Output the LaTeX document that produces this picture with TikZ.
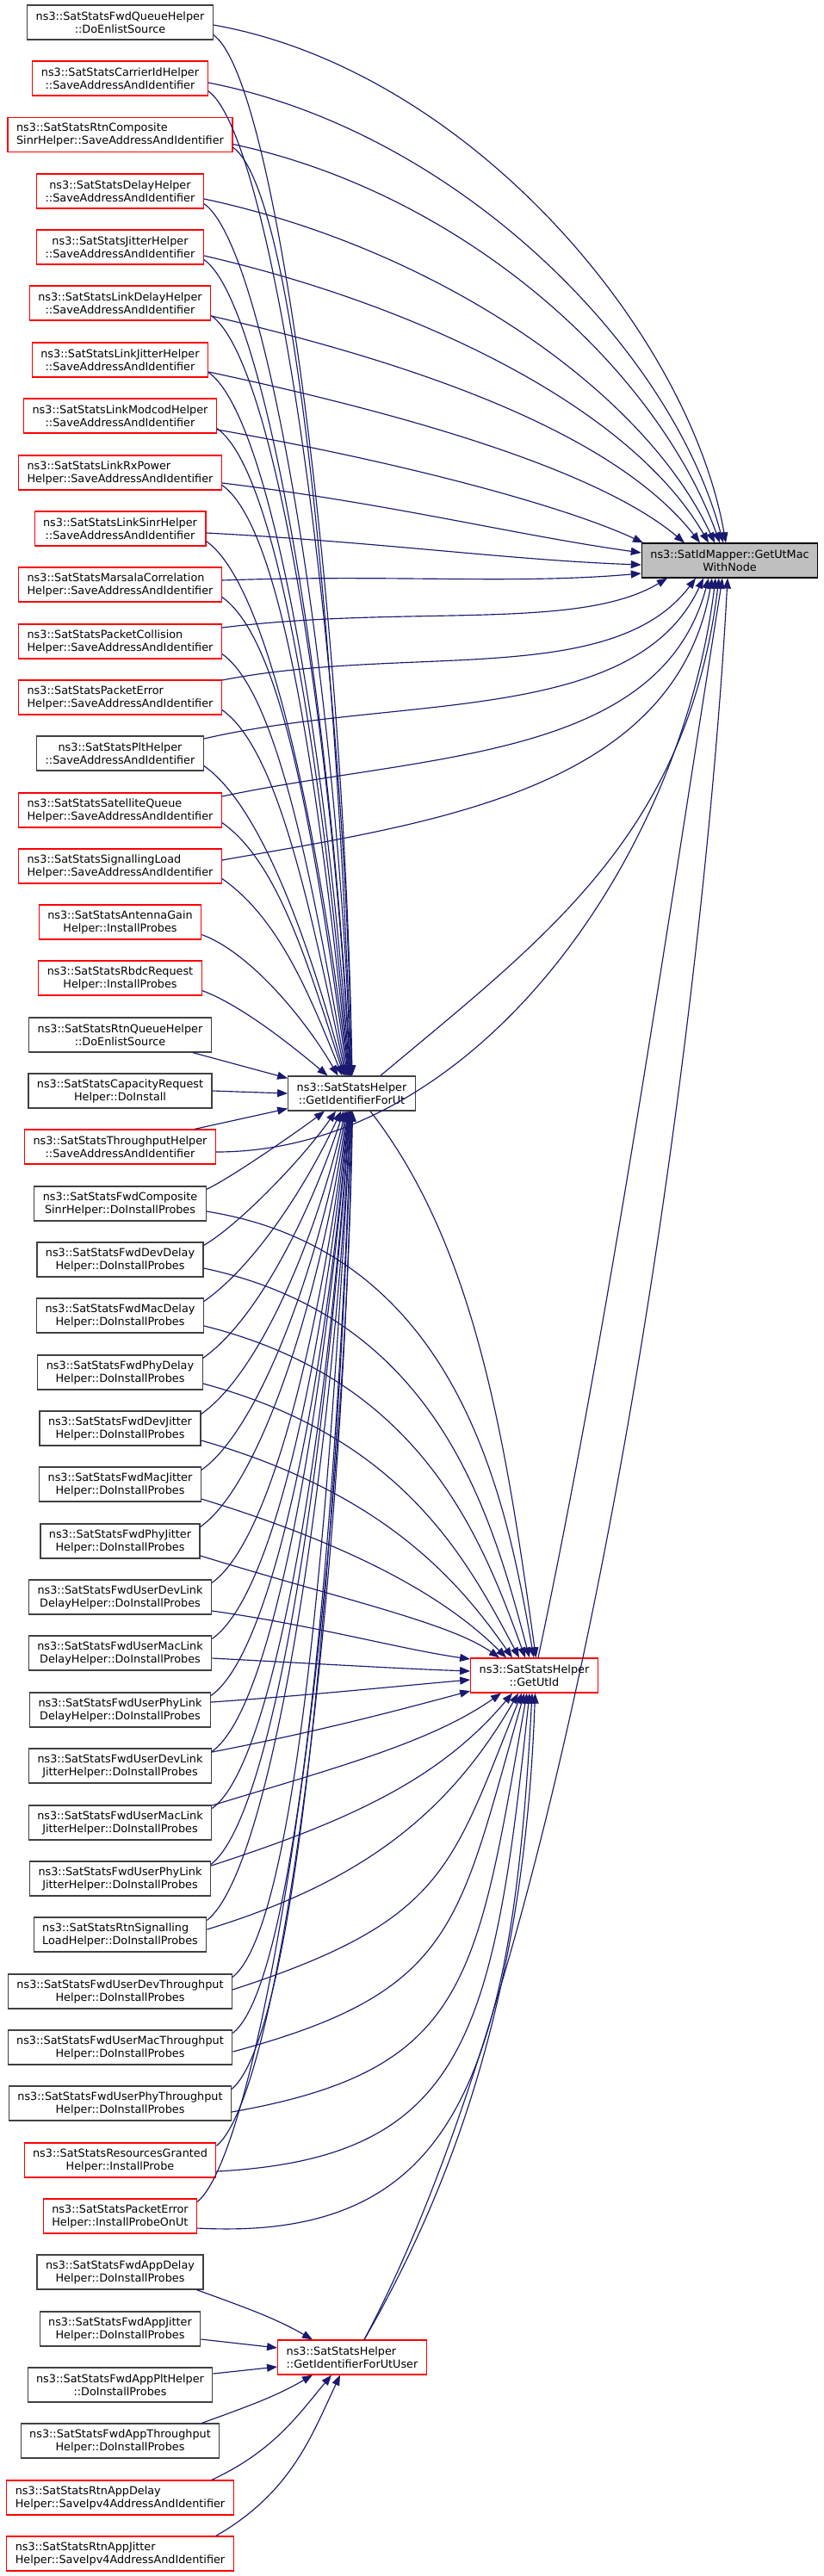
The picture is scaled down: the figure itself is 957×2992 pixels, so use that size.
\documentclass[tikz,border=0pt]{standalone}
\usepackage{fontspec}
\setmainfont{DejaVu Sans}
\usetikzlibrary{arrows.meta}

\definecolor{edgeblue}{HTML}{191970}
\definecolor{nodered}{HTML}{FF0000}
\definecolor{nodegrey}{HTML}{404040}
\definecolor{rootfill}{HTML}{BFBFBF}

\tikzset{
  fnode/.style={draw=nodegrey, fill=white, line width=1.2pt, minimum height=40pt,
    inner xsep=10pt, inner ysep=0pt, align=center,
    font=\fontsize{12.8}{15}\selectfont},
  rednode/.style={fnode, draw=nodered},
  rootnode/.style={fnode, draw=black, fill=rootfill},
  callarrow/.style={draw=edgeblue, line width=1.15pt, -{Triangle[length=12pt,width=9pt]}}
}

\begin{document}
\begin{tikzpicture}[x=1pt, y=1pt]
  \useasboundingbox (0,0) rectangle (957,-2992);

  % Callee and the helpers in between
  \node[rootnode] (mac) at (847.5,-651) {ns3::SatIdMapper::GetUtMac\\WithNode};
  \node[fnode] (getIdUt) at (408.5,-1270) {ns3::SatStatsHelper\\::GetIdentifierForUt};
  \node[rednode] (getUtId) at (620.5,-1946) {ns3::SatStatsHelper\\::GetUtId};
  \node[rednode, align=left] (getIdUtUser) at (409,-2738) {ns3::SatStatsHelper\\::GetIdentifierForUtUser};

  % Callers (left column, top to bottom)
  \node[fnode] (fwdQueue) at (139.5,-26) {ns3::SatStatsFwdQueueHelper\\::DoEnlistSource};
  \node[rednode] (carrierId) at (139.5,-91) {ns3::SatStatsCarrierIdHelper\\::SaveAddressAndIdentifier};
  \node[rednode, align=left] (rtnCompSinr) at (139.5,-156.5) {ns3::SatStatsRtnComposite\\SinrHelper::SaveAddressAndIdentifier};
  \node[rednode] (delay) at (139.5,-222) {ns3::SatStatsDelayHelper\\::SaveAddressAndIdentifier};
  \node[rednode] (jitter) at (139.5,-287) {ns3::SatStatsJitterHelper\\::SaveAddressAndIdentifier};
  \node[rednode] (linkDelay) at (139.5,-352) {ns3::SatStatsLinkDelayHelper\\::SaveAddressAndIdentifier};
  \node[rednode] (linkJitter) at (139.5,-418) {ns3::SatStatsLinkJitterHelper\\::SaveAddressAndIdentifier};
  \node[rednode] (linkModcod) at (139.5,-483) {ns3::SatStatsLinkModcodHelper\\::SaveAddressAndIdentifier};
  \node[rednode, align=left] (linkRxPower) at (139.5,-549) {ns3::SatStatsLinkRxPower\\Helper::SaveAddressAndIdentifier};
  \node[rednode] (linkSinr) at (139.5,-614) {ns3::SatStatsLinkSinrHelper\\::SaveAddressAndIdentifier};
  \node[rednode, align=left] (marsala) at (139.5,-679) {ns3::SatStatsMarsalaCorrelation\\Helper::SaveAddressAndIdentifier};
  \node[rednode, align=left] (pktCollision) at (139.5,-745) {ns3::SatStatsPacketCollision\\Helper::SaveAddressAndIdentifier};
  \node[rednode, align=left] (pktError) at (139.5,-810) {ns3::SatStatsPacketError\\Helper::SaveAddressAndIdentifier};
  \node[fnode] (plt) at (139.5,-875) {ns3::SatStatsPltHelper\\::SaveAddressAndIdentifier};
  \node[rednode, align=left] (satQueue) at (139.5,-941) {ns3::SatStatsSatelliteQueue\\Helper::SaveAddressAndIdentifier};
  \node[rednode, align=left] (signalLoad) at (139.5,-1006) {ns3::SatStatsSignallingLoad\\Helper::SaveAddressAndIdentifier};
  \node[rednode] (antennaGain) at (139.5,-1071) {ns3::SatStatsAntennaGain\\Helper::InstallProbes};
  \node[rednode] (rbdcReq) at (139.5,-1136) {ns3::SatStatsRbdcRequest\\Helper::InstallProbes};
  \node[fnode] (rtnQueue) at (139.5,-1202) {ns3::SatStatsRtnQueueHelper\\::DoEnlistSource};
  \node[fnode] (capReq) at (139.5,-1267) {ns3::SatStatsCapacityRequest\\Helper::DoInstall};
  \node[rednode] (throughput) at (139.5,-1332) {ns3::SatStatsThroughputHelper\\::SaveAddressAndIdentifier};
  \node[fnode] (fwdCompSinr) at (139.5,-1398) {ns3::SatStatsFwdComposite\\SinrHelper::DoInstallProbes};
  \node[fnode] (fwdDevDelay) at (139.5,-1463) {ns3::SatStatsFwdDevDelay\\Helper::DoInstallProbes};
  \node[fnode] (fwdMacDelay) at (139.5,-1528) {ns3::SatStatsFwdMacDelay\\Helper::DoInstallProbes};
  \node[fnode] (fwdPhyDelay) at (139.5,-1594) {ns3::SatStatsFwdPhyDelay\\Helper::DoInstallProbes};
  \node[fnode] (fwdDevJitter) at (139.5,-1659) {ns3::SatStatsFwdDevJitter\\Helper::DoInstallProbes};
  \node[fnode] (fwdMacJitter) at (139.5,-1724) {ns3::SatStatsFwdMacJitter\\Helper::DoInstallProbes};
  \node[fnode] (fwdPhyJitter) at (139.5,-1790) {ns3::SatStatsFwdPhyJitter\\Helper::DoInstallProbes};
  \node[fnode] (userDevLinkDelay) at (139.5,-1855) {ns3::SatStatsFwdUserDevLink\\DelayHelper::DoInstallProbes};
  \node[fnode] (userMacLinkDelay) at (139.5,-1920) {ns3::SatStatsFwdUserMacLink\\DelayHelper::DoInstallProbes};
  \node[fnode] (userPhyLinkDelay) at (139.5,-1986) {ns3::SatStatsFwdUserPhyLink\\DelayHelper::DoInstallProbes};
  \node[fnode] (userDevLinkJitter) at (139.5,-2051) {ns3::SatStatsFwdUserDevLink\\JitterHelper::DoInstallProbes};
  \node[fnode] (userMacLinkJitter) at (139.5,-2117) {ns3::SatStatsFwdUserMacLink\\JitterHelper::DoInstallProbes};
  \node[fnode] (userPhyLinkJitter) at (139.5,-2182) {ns3::SatStatsFwdUserPhyLink\\JitterHelper::DoInstallProbes};
  \node[fnode, align=left] (rtnSignalLoad) at (139.5,-2247) {ns3::SatStatsRtnSignalling\\LoadHelper::DoInstallProbes};
  \node[fnode] (userDevThr) at (139.5,-2313) {ns3::SatStatsFwdUserDevThroughput\\Helper::DoInstallProbes};
  \node[fnode] (userMacThr) at (139.5,-2378) {ns3::SatStatsFwdUserMacThroughput\\Helper::DoInstallProbes};
  \node[fnode] (userPhyThr) at (139.5,-2443) {ns3::SatStatsFwdUserPhyThroughput\\Helper::DoInstallProbes};
  \node[rednode] (resGranted) at (139.5,-2509) {ns3::SatStatsResourcesGranted\\Helper::InstallProbe};
  \node[rednode, align=left] (pktErrorUt) at (139.5,-2574) {ns3::SatStatsPacketError\\Helper::InstallProbeOnUt};
  \node[fnode] (appDelay) at (139.5,-2639) {ns3::SatStatsFwdAppDelay\\Helper::DoInstallProbes};
  \node[fnode] (appJitter) at (139.5,-2705) {ns3::SatStatsFwdAppJitter\\Helper::DoInstallProbes};
  \node[fnode] (appPlt) at (139.5,-2770) {ns3::SatStatsFwdAppPltHelper\\::DoInstallProbes};
  \node[fnode] (appThr) at (139.5,-2835) {ns3::SatStatsFwdAppThroughput\\Helper::DoInstallProbes};
  \node[rednode, align=left] (rtnAppDelay) at (139.5,-2901) {ns3::SatStatsRtnAppDelay\\Helper::SaveIpv4AddressAndIdentifier};
  \node[rednode, align=left] (rtnAppJitter) at (139.5,-2966) {ns3::SatStatsRtnAppJitter\\Helper::SaveIpv4AddressAndIdentifier};

  % Calls into GetUtMacWithNode (top side)
  \foreach \nm/\sy/\oa/\ol/\ex/\ia/\il in {
      fwdQueue/-3/-10/300/-4.5/100/250, carrierId/-5/-11/290/-7.5/105/240,
      rtnCompSinr/-11/-12/270/-11.5/110/220, delay/-9/-12/270/-17.5/115/200,
      jitter/-10/-13/260/-24.5/120/180, linkDelay/-15/-13/250/-34.5/128/160,
      linkJitter/-14/-12/240/-52.5/140/130, linkModcod/-16/-10/220/-100.5/155/100}
    \draw[callarrow] ([yshift=\sy]\nm.east) .. controls +(\oa:\ol) and +(\ia:\il) .. ([xshift=\ex]mac.north);

  % Calls into GetUtMacWithNode (left side)
  \foreach \nm/\sy/\oa/\ol/\ey/\ia/\il in {
      linkRxPower/-12/-7/200/9/172/150, linkSinr/-5/-3/200/-5/178/150,
      marsala/5/2/200/-15/185/150}
    \draw[callarrow] ([yshift=\sy]\nm.east) .. controls +(\oa:\ol) and +(\ia:\il) .. ([yshift=\ey]mac.west);

  % Calls into GetUtMacWithNode (bottom side)
  \foreach \nm/\sy/\oa/\ol/\ex/\ia/\il in {
      pktCollision/16/7/220/-72.5/-149/120, pktError/20/11/220/-39.5/-127/160,
      plt/17/13/230/-30.5/-115/190, satQueue/16/12/240/-24.5/-105/220,
      signalLoad/7/10/250/-20.5/-100/250, throughput/-6/0/300/-16.5/-97/330}
    \draw[callarrow] ([yshift=\sy]\nm.east) .. controls +(\oa:\ol) and +(\ia:\il) .. ([xshift=\ex]mac.south);

  % Calls into GetIdentifierForUt from above
  \foreach \nm/\oa/\ol/\ex/\ia/\il in {
      fwdQueue/-35/90/0.5/91/545, carrierId/-35/90/0/91/515,
      rtnCompSinr/-35/90/-0.5/92/486, delay/-35/90/-1/92/456,
      jitter/-35/90/-1.5/93/427, linkDelay/-35/90/-2/93/398,
      linkJitter/-35/90/-2.5/94/368, linkModcod/-35/90/-3/95/339,
      linkRxPower/-35/90/-3.5/96/309, linkSinr/-35/90/-4/97/280,
      marsala/-35/90/-5/98/251, pktCollision/-35/80/-6/100/221,
      pktError/-35/80/-7/102/192, plt/-35/80/-8/105/162,
      satQueue/-35/80/-9/108/133, signalLoad/-35/80/-11/112/104,
      antennaGain/-20/60/-16/120/74, rbdcReq/-20/50/-28/140/45}
    \draw[callarrow] ([yshift=6]\nm.south east) .. controls +(\oa:\ol) and +(\ia:\il) .. ([xshift=\ex]getIdUt.north);

  % Direct calls into GetIdentifierForUt
  \draw[callarrow] ([xshift=-22]rtnQueue.south east) -- ([yshift=-3]getIdUt.north west);
  \draw[callarrow] (capReq.east) -- (getIdUt.west);
  \draw[callarrow] ([xshift=-25]throughput.north east) -- ([yshift=3]getIdUt.south west);

  % Calls into GetIdentifierForUt from below
  \foreach \nm/\oa/\ol/\ex/\ia/\il in {
      fwdCompSinr/25/30/-31.5/-143/41, fwdDevDelay/30/45/-18.5/-125/71,
      fwdMacDelay/35/70/-12.5/-115/100, fwdPhyDelay/35/75/-9.5/-108/130,
      fwdDevJitter/35/80/-7.5/-103/159, fwdMacJitter/35/80/-6.5/-100/188,
      fwdPhyJitter/35/85/-5.5/-98/218, userDevLinkDelay/35/85/-4.5/-97/247,
      userMacLinkDelay/35/90/-4/-96/276, userPhyLinkDelay/35/90/-3.5/-95/306,
      userDevLinkJitter/35/90/-3/-95/335, userMacLinkJitter/35/90/-2.5/-94/365,
      userPhyLinkJitter/38/95/-2/-94/394, rtnSignalLoad/38/95/-1.5/-93/423,
      userDevThr/38/95/-1/-93/453, userMacThr/38/95/-0.5/-92/482,
      userPhyThr/40/100/0/-92/512, resGranted/40/100/0.5/-91/541,
      pktErrorUt/40/100/1/-91/571}
    \draw[callarrow] ([yshift=-4]\nm.north east) .. controls +(\oa:\ol) and +(\ia:\il) .. ([xshift=\ex]getIdUt.south);

  % Calls into GetUtId (top side)
  \foreach \nm/\sy/\oa/\ol/\ex/\ia/\il in {
      fwdCompSinr/-9/-9/300/-0.5/100/180, fwdDevDelay/-10/-12/280/-5.5/105/170,
      fwdMacDelay/-12/-14/260/-10.5/110/150, fwdPhyDelay/-13/-15/240/-17.5/118/130,
      fwdDevJitter/-14/-16/220/-25.5/125/110, fwdMacJitter/-17/-17/200/-32.5/135/90,
      fwdPhyJitter/-17/-17/180/-40.5/145/70}
    \draw[callarrow] ([yshift=\sy]\nm.east) .. controls +(\oa:\ol) and +(\ia:\il) .. ([xshift=\ex]getUtId.north);

  % Calls into GetUtId (left side)
  \foreach \nm/\sy/\oa/\ol/\ey/\ia/\il in {
      userDevLinkDelay/-16/-8/120/19/172/80, userMacLinkDelay/-6/-3/120/5/178/80,
      userPhyLinkDelay/9/4/120/-5/185/80, userDevLinkJitter/16/11/130/-18/195/90}
    \draw[callarrow] ([yshift=\sy]\nm.east) .. controls +(\oa:\ol) and +(\ia:\il) .. ([yshift=\ey]getUtId.west);

  % Calls into GetUtId (bottom side)
  \foreach \nm/\sy/\oa/\ol/\ex/\ia/\il in {
      userMacLinkJitter/20/17/150/-38.5/-145/100, userPhyLinkJitter/15/18/170/-25.5/-130/130,
      rtnSignalLoad/6/17/190/-18.5/-120/160, userDevThr/2/18/260/-14.5/-112/220,
      userMacThr/-5/15/270/-11.5/-106/280, userPhyThr/-10/10/280/-8.5/-100/340,
      resGranted/-13/3/290/-5.5/-96/400, pktErrorUt/-14/-3/300/-2.5/-93/450}
    \draw[callarrow] ([yshift=\sy]\nm.east) .. controls +(\oa:\ol) and +(\ia:\il) .. ([xshift=\ex]getUtId.south);

  % Calls into GetIdentifierForUtUser
  \draw[callarrow] ([xshift=-8]appDelay.south east) .. controls +(-20:60) and +(150:50) .. ([xshift=-46]getIdUtUser.north);
  \draw[callarrow] ([yshift=-12]appJitter.east) -- ([yshift=11]getIdUtUser.west);
  \draw[callarrow] ([yshift=13]appPlt.east) -- ([yshift=-11]getIdUtUser.west);
  \draw[callarrow] ([xshift=-21]appThr.north east) .. controls +(20:60) and +(-150:50) .. ([xshift=-46]getIdUtUser.south);
  \draw[callarrow] ([xshift=-26]rtnAppDelay.north east) .. controls +(25:80) and +(-130:60) .. ([xshift=-24]getIdUtUser.south);
  \draw[callarrow] ([xshift=-21]rtnAppJitter.north east) .. controls +(30:100) and +(-115:80) .. ([xshift=-14]getIdUtUser.south);

  % Helper to helper calls
  \draw[callarrow] ([xshift=21.5]getIdUt.south) .. controls +(-52:200) and +(98:250) .. ([xshift=2]getUtId.north);
  \draw[callarrow] ([xshift=-41]getIdUt.north east) .. controls +(40:250) and +(-97:300) .. ([xshift=-12.5]mac.south);
  \draw[callarrow] ([xshift=4.5]getUtId.north) .. controls +(78:400) and +(-99:400) .. ([xshift=-8.5]mac.south);
  \draw[callarrow] ([xshift=14]getIdUtUser.north) .. controls +(60:250) and +(-92:300) .. ([xshift=1]getUtId.south);
  \draw[callarrow] ([xshift=14]getIdUtUser.north) .. controls +(62:550) and +(-93:500) .. ([xshift=-2.5]mac.south);
\end{tikzpicture}
\end{document}
